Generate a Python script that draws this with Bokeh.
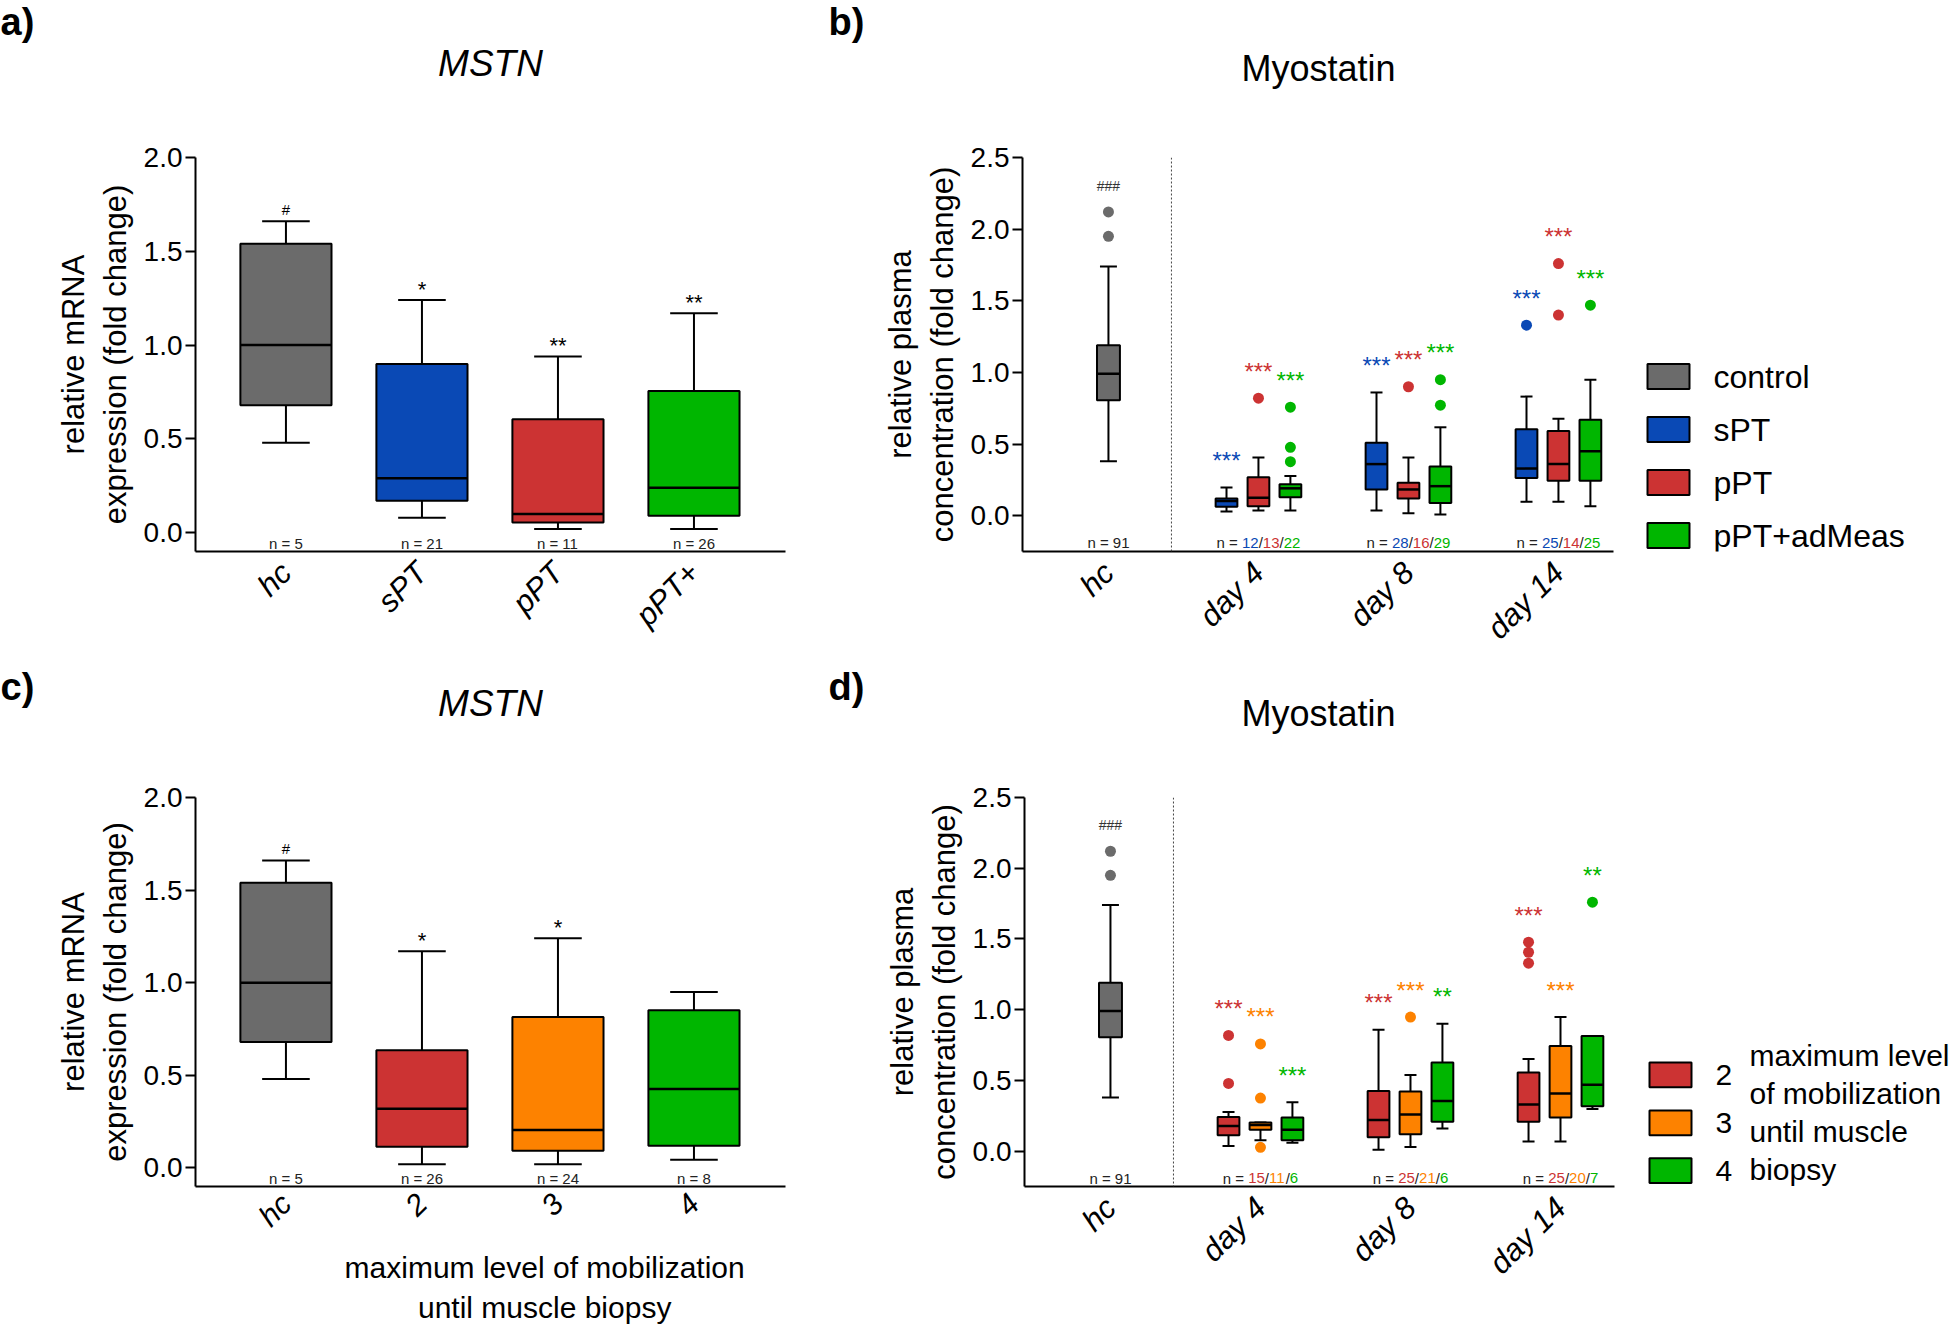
import math
from bokeh.plotting import figure
from bokeh.models import (ColumnDataSource, FixedTicker, Span,
                          NumeralTickFormatter)
from bokeh.layouts import column, row
from bokeh.embed import file_html
from bokeh.resources import INLINE
from bokeh.core.properties import value

FONT = "Liberation Sans"
GRAY = "#6b6b6b"
BLUE = "#0a49b5"
RED = "#cc3333"
GREEN = "#00b600"
ORANGE = "#fd8200"

# ---------------- data ----------------
# panel a : MSTN mRNA by patient group
a_cats = ["hc", "sPT", "pPT", "pPT+"]
a_lo = [0.48, 0.08, 0.02, 0.02]
a_q1 = [0.68, 0.17, 0.055, 0.09]
a_med = [1.00, 0.29, 0.10, 0.24]
a_q3 = [1.54, 0.90, 0.605, 0.755]
a_hi = [1.66, 1.24, 0.94, 1.17]
a_n = [5, 21, 11, 26]
a_sig = ["#", "*", "**", "**"]

# panel c : MSTN mRNA by mobilization level
c_cats = ["hc", "2", "3", "4"]
c_lo = [0.48, 0.02, 0.02, 0.045]
c_q1 = [0.68, 0.115, 0.093, 0.12]
c_med = [1.00, 0.32, 0.205, 0.427]
c_q3 = [1.54, 0.636, 0.815, 0.851]
c_hi = [1.66, 1.17, 1.24, 0.95]
c_n = [5, 26, 24, 8]
c_sig = ["#", "*", "*", ""]

# healthy controls (plasma): lo, q1, median, q3, hi
ctrl_stats = [0.38, 0.805, 0.99, 1.19, 1.74]
ctrl_out = [2.12, 1.95]
ctrl_n = 91
ctrl_sig = "###"

days = ["day 4", "day 8", "day 14"]

# panel b : plasma myostatin by patient group (rows = series, cols = days)
b_names = ["sPT", "pPT", "pPT+adMeas"]
b_lo = [[0.03, 0.037, 0.097], [0.037, 0.017, 0.097], [0.037, 0.009, 0.066]]
b_q1 = [[0.063, 0.183, 0.263], [0.066, 0.12, 0.243], [0.129, 0.089, 0.243]]
b_med = [[0.103, 0.36, 0.329], [0.126, 0.183, 0.36], [0.191, 0.206, 0.449]]
b_q3 = [[0.12, 0.509, 0.603], [0.269, 0.229, 0.591], [0.22, 0.343, 0.669]]
b_hi = [[0.197, 0.86, 0.831], [0.406, 0.406, 0.677], [0.277, 0.617, 0.949]]
b_out = [[[], [], [1.33]],
         [[0.82], [0.90], [1.76, 1.40]],
         [[0.757, 0.477, 0.377], [0.949, 0.771], [1.469]]]
b_n = [[12, 28, 25], [13, 16, 14], [22, 29, 25]]
b_sig = [["***", "***", "***"], ["***", "***", "***"], ["***", "***", "***"]]

# panel d : plasma myostatin by mobilization level
d_names = ["2", "3", "4"]
d_lo = [[0.036, 0.009, 0.068], [0.077, 0.03, 0.068], [0.059, 0.16, 0.297]]
d_q1 = [[0.113, 0.098, 0.208], [0.152, 0.119, 0.238], [0.077, 0.208, 0.318]]
d_med = [[0.178, 0.22, 0.33], [0.184, 0.259, 0.407], [0.152, 0.354, 0.47]]
d_q3 = [[0.241, 0.425, 0.556], [0.202, 0.422, 0.743], [0.238, 0.627, 0.814]]
d_hi = [[0.276, 0.859, 0.651], [0.202, 0.538, 0.948], [0.345, 0.90, 0.814]]
d_out = [[[0.818, 0.479], [], [1.477, 1.406, 1.329]],
         [[0.758, 0.375, 0.027], [0.948], []],
         [[], [], [1.76]]]
d_n = [[15, 25, 25], [11, 21, 20], [6, 6, 7]]
d_sig = [["***", "***", "***"], ["***", "***", "***"], ["***", "**", "**"]]
d_legend_text = ["maximum level", "of mobilization", "until muscle", "biopsy"]

# ---------------- geometry (page pixels) ----------------
HDR = 110            # height of the title strip above each row
ROW_H = 553          # height of each row of panels
LEG_W = 327          # width of the legend strips
GA = dict(W=850, FL=195, FW=590, FT=47, FH=394, x=(-0.665, 3.673), y=(-0.1, 2.0))
GB = dict(W=783, FL=172, FW=591, FT=47, FH=394, x=(-0.573, 3.367), y=(-0.25, 2.5))
GC = dict(W=850, FL=195, FW=590, FT=24, FH=394, x=(-0.665, 3.673), y=(-0.1, 2.0))
GD = dict(W=783, FL=174, FW=590, FT=24, FH=394, x=(-0.573, 3.360), y=(-0.25, 2.5))


def make_fig(G, yticks, ylabel, xticks, xlabels):
    p = figure(width=G["W"], height=ROW_H, x_range=G["x"], y_range=G["y"],
               output_backend="svg", toolbar_location=None,
               min_border_left=G["FL"],
               min_border_right=G["W"] - G["FL"] - G["FW"],
               min_border_top=G["FT"],
               min_border_bottom=ROW_H - G["FT"] - G["FH"])
    p.outline_line_color = None
    p.grid.visible = False
    p.background_fill_color = "white"
    p.border_fill_color = "white"
    ya = p.yaxis[0]
    ya.ticker = FixedTicker(ticks=yticks)
    ya.formatter = NumeralTickFormatter(format="0.0")
    ya.major_label_text_font = FONT
    ya.major_label_text_font_size = "28px"
    ya.major_label_text_color = "black"
    ya.major_label_standoff = 3
    ya.major_tick_out = 10
    ya.major_tick_in = 0
    ya.major_tick_line_width = 2
    ya.minor_tick_line_color = None
    ya.axis_line_width = 2
    ya.axis_label = ylabel
    ya.axis_label_text_font = FONT
    ya.axis_label_text_font_size = "31px"
    ya.axis_label_text_font_style = "normal"
    ya.axis_label_text_color = "black"
    ya.axis_label_standoff = 8
    xa = p.xaxis[0]
    xa.ticker = FixedTicker(ticks=xticks)
    xa.major_label_overrides = {t: l for t, l in zip(xticks, xlabels)}
    xa.major_tick_line_color = None
    xa.minor_tick_line_color = None
    xa.axis_line_width = 2
    xa.major_label_orientation = math.pi / 4
    xa.major_label_text_font = FONT
    xa.major_label_text_font_style = "italic"
    xa.major_label_text_font_size = "31px"
    xa.major_label_text_color = "black"
    xa.major_label_standoff = 10
    return p


def draw_boxes(p, xs, lo, q1, med, q3, hi, colors, width, cap):
    src = ColumnDataSource(dict(
        x=xs, lo=lo, q1=q1, med=med, q3=q3, hi=hi,
        left=[x - width / 2 for x in xs], right=[x + width / 2 for x in xs],
        cl=[x - cap / 2 for x in xs], cr=[x + cap / 2 for x in xs],
        color=colors))
    kw = dict(source=src, line_color="black", line_width=2)
    p.segment(x0="x", y0="q3", x1="x", y1="hi", **kw)
    p.segment(x0="x", y0="lo", x1="x", y1="q1", **kw)
    p.segment(x0="cl", y0="hi", x1="cr", y1="hi", **kw)
    p.segment(x0="cl", y0="lo", x1="cr", y1="lo", **kw)
    r = p.quad(left="left", right="right", bottom="q1", top="q3",
               fill_color="color", line_color="black", line_width=2, source=src)
    p.segment(x0="left", y0="med", x1="right", y1="med", source=src,
              line_color="black", line_width=2.5)
    return r


CW = {"n": 0.556, " ": 0.278, "=": 0.584, "/": 0.278}


def text_w(s, fs):
    return sum(CW.get(ch, 0.556) for ch in s) * fs


def add_pieces(p, x, y, parts, fs=15):
    total = sum(text_w(t, fs) for t, _ in parts)
    cur = -total / 2
    xs, ys, tx, cols, offs = [], [], [], [], []
    for t, c in parts:
        xs.append(x); ys.append(y); tx.append(t); cols.append(c); offs.append(cur)
        cur += text_w(t, fs)
    src = ColumnDataSource(dict(x=xs, y=ys, text=tx, color=cols, xo=offs))
    p.text(x="x", y="y", text="text", text_color="color", x_offset="xo",
           source=src, text_align="left", text_baseline="middle",
           text_font=value(FONT), text_font_size=f"{fs}px")


def add_sig(p, xs, ys, texts, colors, fs, yoff):
    src = ColumnDataSource(dict(x=xs, y=ys, text=texts, color=colors))
    p.text(x="x", y="y", text="text", text_color="color", source=src,
           text_align="center", text_baseline="alphabetic", y_offset=yoff,
           text_font=value(FONT), text_font_size=f"{fs}px")


def blank_fig(w, h, top=0, bottom=0):
    # pixel-coordinate canvas: data y == pixels from the figure's top edge
    p = figure(width=w, height=h, x_range=(0, w), y_range=(h - bottom, top),
               output_backend="svg", toolbar_location=None, min_border=0,
               min_border_top=top, min_border_bottom=bottom)
    p.axis.visible = False
    p.grid.visible = False
    p.outline_line_color = None
    return p


def put_text(p, items):
    for (x, y, t, fs, style, align, base) in items:
        p.text(x=[x], y=[y], text=[t], text_font=value(FONT),
               text_font_size=f"{fs}px", text_font_style=style,
               text_align=align, text_baseline=base, text_color="black")


def legend_fig(G, labels, colors, x0, y0, pitch, fs):
    p = blank_fig(LEG_W, ROW_H, G["FT"], ROW_H - G["FT"] - G["FH"])
    ys = [y0 + i * pitch for i in range(len(labels))]
    p.quad(left=[x0] * len(ys), right=[x0 + 42] * len(ys),
           top=[y - 12.5 for y in ys], bottom=[y + 12.5 for y in ys],
           fill_color=colors, line_color="black", line_width=2)
    p.text(x=[x0 + 66] * len(ys), y=ys, text=labels, text_font=value(FONT),
           text_font_size=f"{fs}px", text_align="left",
           text_baseline="middle", text_color="black")
    return p


# ---------------- simple panels (a, c) ----------------
def simple_panel(G, cats, lo, q1, med, q3, hi, ns, sig, colors):
    xs = list(range(len(cats)))
    p = make_fig(G, [0, 0.5, 1.0, 1.5, 2.0],
                 "relative mRNA\nexpression (fold change)", xs, cats)
    draw_boxes(p, xs, lo, q1, med, q3, hi, colors, 0.67, 0.35)
    add_sig(p, xs[:1], hi[:1], sig[:1], ["black"], 15, -12)
    add_sig(p, xs[1:], hi[1:], sig[1:], ["black"] * (len(xs) - 1), 22, -11)
    for x, n in zip(xs, ns):
        add_pieces(p, x, -0.055, [(f"n = {n}", "#222222")])
    return p


fa = simple_panel(GA, a_cats, a_lo, a_q1, a_med, a_q3, a_hi, a_n, a_sig,
                  [GRAY, BLUE, RED, GREEN])
fc = simple_panel(GC, c_cats, c_lo, c_q1, c_med, c_q3, c_hi, c_n, c_sig,
                  [GRAY, RED, ORANGE, GREEN])
pad = "\u00a0" * 13
xc = fc.xaxis[0]
xc.axis_label = (pad + "maximum level of mobilization\n" +
                 pad + "until muscle biopsy")
xc.axis_label_text_font = FONT
xc.axis_label_text_font_size = "30px"
xc.axis_label_text_font_style = "normal"
xc.axis_label_text_color = "black"
xc.axis_label_standoff = 4
xc.major_label_text_font_size = "30px"
xc.major_label_standoff = 6


# ---------------- grouped panels (b, d) ----------------
def grouped_panel(G, names, colors, lo, q1, med, q3, hi, out, ns, sig):
    p = make_fig(G, [0, 0.5, 1.0, 1.5, 2.0, 2.5],
                 "relative plasma\nconcentration (fold change)",
                 [0, 1, 2, 3], ["hc"] + days)
    p.add_layout(Span(location=0.42, dimension="height", line_color="#444444",
                      line_width=1, line_dash="2 2"))
    clo, cq1, cmed, cq3, chi = ctrl_stats
    draw_boxes(p, [0], [clo], [cq1], [cmed], [cq3], [chi], [GRAY], 0.153, 0.113)
    p.scatter(x=[0] * len(ctrl_out), y=ctrl_out, size=11, color=GRAY,
              line_color=None)
    add_sig(p, [0], [max([chi] + ctrl_out)], [ctrl_sig], ["#333333"], 14, -26)
    add_pieces(p, 0, -0.19, [(f"n = {ctrl_n}", "#222222")])
    offsets = [-0.213, 0.0, 0.213]
    for k, col in enumerate(colors):
        xs = [d + 1 + offsets[k] for d in range(len(days))]
        draw_boxes(p, xs, lo[k], q1[k], med[k], q3[k], hi[k],
                   [col] * len(xs), 0.145, 0.08)
        ox, oy = [], []
        for x, pts in zip(xs, out[k]):
            ox += [x] * len(pts)
            oy += pts
        p.scatter(x=ox, y=oy, size=11, color=col, line_color=None)
        tops = [max([h] + pts) for h, pts in zip(hi[k], out[k])]
        add_sig(p, xs, tops, sig[k], [col] * len(xs), 24, -27)
    for d in range(len(days)):
        parts = [("n = ", "#222222")]
        for k, col in enumerate(colors):
            if k:
                parts.append(("/", "#222222"))
            parts.append((str(ns[k][d]), col))
        add_pieces(p, d + 1, -0.19, parts)
    return p


fb = grouped_panel(GB, b_names, [BLUE, RED, GREEN], b_lo, b_q1, b_med, b_q3,
                   b_hi, b_out, b_n, b_sig)
fd = grouped_panel(GD, d_names, [RED, ORANGE, GREEN], d_lo, d_q1, d_med, d_q3,
                   d_hi, d_out, d_n, d_sig)

# ---------------- legends (own small canvases right of b and d) ----------------
lb = legend_fig(GB, ["control"] + b_names, [GRAY, BLUE, RED, GREEN],
                14, 266, 53, 32)
ld = legend_fig(GD, d_names, [RED, ORANGE, GREEN], 16, 305, 48.5, 30)
put_text(ld, [(116, 285 + i * 38.5, t, 30, "normal", "left", "middle")
              for i, t in enumerate(d_legend_text)])

# ---------------- headers (panel letters and titles) ----------------
h1 = blank_fig(1960, HDR)
put_text(h1, [(0, 0, "a)", 38, "bold", "left", "top"),
              (490, 63, "MSTN", 37, "italic", "center", "middle"),
              (828, 0, "b)", 38, "bold", "left", "top"),
              (1318, 68, "Myostatin", 36, "normal", "center", "middle")])
h2 = blank_fig(1960, HDR)
put_text(h2, [(0, 2, "c)", 38, "bold", "left", "top"),
              (490, 40, "MSTN", 37, "italic", "center", "middle"),
              (828, 2, "d)", 38, "bold", "left", "top"),
              (1318, 50, "Myostatin", 36, "normal", "center", "middle")])

layout = column(h1, row(fa, fb, lb), h2, row(fc, fd, ld))
open("out.html", "w").write(file_html(layout, INLINE))
